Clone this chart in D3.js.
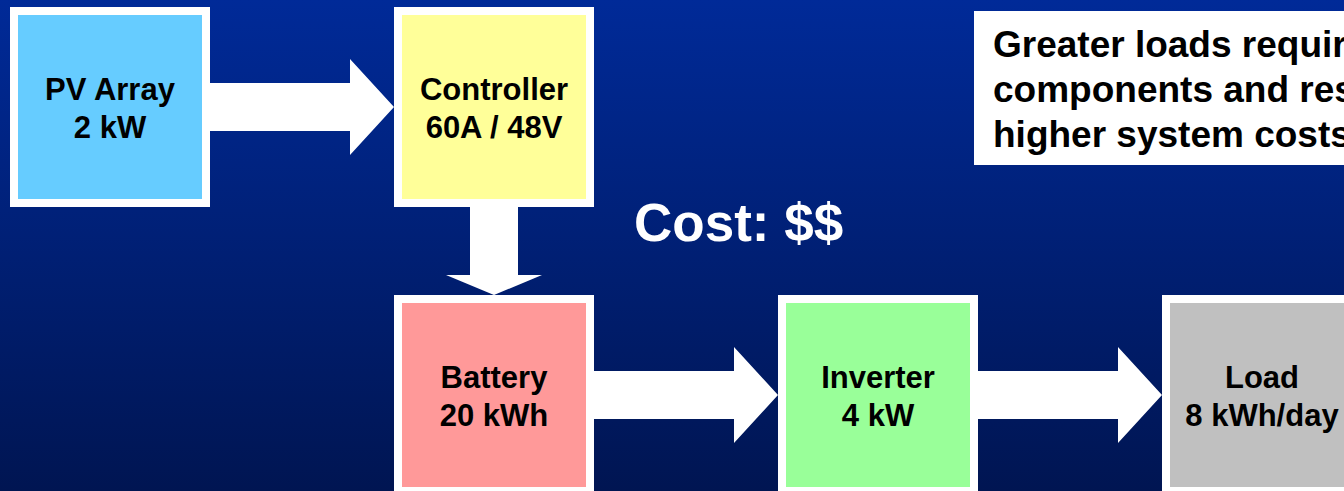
<!DOCTYPE html>
<html lang="en">
<head>
    <meta charset="UTF-8">
    <title>PV system sizing</title>
    <script src="https://d3js.org/d3.v7.min.js"></script>
    <style>
        html, body { margin: 0; padding: 0; overflow: hidden; }
        text { font-family: "Liberation Sans", Arial, sans-serif; font-weight: bold; }
    </style>
</head>
<body>
    <svg width="1344" height="491"></svg>
    <script>
        // components of the system, with their rating
        const components = ['PV Array', 'Controller', 'Battery', 'Inverter', 'Load'];
        const ratings = ['2 kW', '60A / 48V', '20 kWh', '4 kW', '8 kWh/day'];
        const gridCol = [0, 1, 1, 2, 3];
        const gridRow = [0, 0, 1, 1, 1];
        const fills = ['#66ccff', '#ffff99', '#ff9999', '#99ff99', '#c0c0c0'];
        // energy flow, as index pairs into components
        const flows = [[0, 1], [1, 2], [2, 3], [3, 4]];
        const costLabel = 'Cost: $$';
        const noteLines = ['Greater loads require larger', 'components and result in', 'higher system costs'];

        const svg = d3.select('svg');
        const [width, height] = [+svg.attr('width'), +svg.attr('height')];

        const grad = svg.append('defs').append('linearGradient')
            .attr('id', 'bg').attr('x1', 0).attr('y1', 0).attr('x2', 0).attr('y2', 1);
        grad.append('stop').attr('offset', '0%').attr('stop-color', '#002a98');
        grad.append('stop').attr('offset', '100%').attr('stop-color', '#001552');
        svg.append('rect').attr('width', width).attr('height', height).attr('fill', 'url(#bg)');

        const box = 200, pad = 8;
        const xScale = d3.scaleLinear().domain([0, 3]).range([10, 1162]);
        const yScale = d3.scaleLinear().domain([0, 1]).range([7, 295]);

        const nodes = components.map((name, i) => ({
            name, rating: ratings[i], fill: fills[i],
            x: xScale(gridCol[i]), y: yScale(gridRow[i])
        }));

        // arrows first, boxes sit on top of the tips
        const shaft = 24;
        const arrowPath = (a, b) => {
            if (a.y === b.y) {
                const cy = a.y + box / 2, x0 = a.x + box, tip = b.x, hx = tip - 44;
                return d3.line()([[x0, cy - shaft], [hx, cy - shaft], [hx, cy - 48], [tip, cy],
                    [hx, cy + 48], [hx, cy + shaft], [x0, cy + shaft]]) + 'Z';
            }
            const cx = a.x + box / 2, y0 = a.y + box, tip = b.y, hy = tip - 20;
            return d3.line()([[cx - shaft, y0], [cx - shaft, hy], [cx - 48, hy], [cx, tip],
                [cx + 48, hy], [cx + shaft, hy], [cx + shaft, y0]]) + 'Z';
        };

        svg.selectAll('path.flow')
            .data(flows)
            .join('path')
            .attr('class', 'flow')
            .attr('d', d => arrowPath(nodes[d[0]], nodes[d[1]]))
            .attr('fill', 'white');

        const g = svg.selectAll('g.comp')
            .data(nodes)
            .join('g')
            .attr('class', 'comp')
            .attr('transform', d => `translate(${d.x},${d.y})`);

        g.append('rect').attr('width', box).attr('height', box).attr('fill', 'white');
        g.append('rect')
            .attr('x', pad).attr('y', pad)
            .attr('width', box - 2 * pad).attr('height', box - 2 * pad)
            .attr('fill', d => d.fill);

        const label = g.append('text')
            .attr('text-anchor', 'middle')
            .attr('font-size', 31)
            .attr('fill', 'black');
        label.append('tspan').attr('x', box / 2).attr('y', 93).text(d => d.name);
        label.append('tspan').attr('x', box / 2).attr('y', 131).text(d => d.rating);

        svg.append('text')
            .attr('x', 634).attr('y', 241)
            .attr('font-size', 53)
            .attr('fill', 'white')
            .text(costLabel);

        // note box, runs off the right edge
        svg.append('rect')
            .attr('x', 974).attr('y', 11)
            .attr('width', 500).attr('height', 154)
            .attr('fill', 'white');
        svg.append('text')
            .attr('font-size', 37)
            .attr('fill', 'black')
            .selectAll('tspan')
            .data(noteLines)
            .join('tspan')
            .attr('x', 993)
            .attr('y', (d, i) => 57 + i * 45)
            .text(d => d);
    </script>
</body>
</html>
